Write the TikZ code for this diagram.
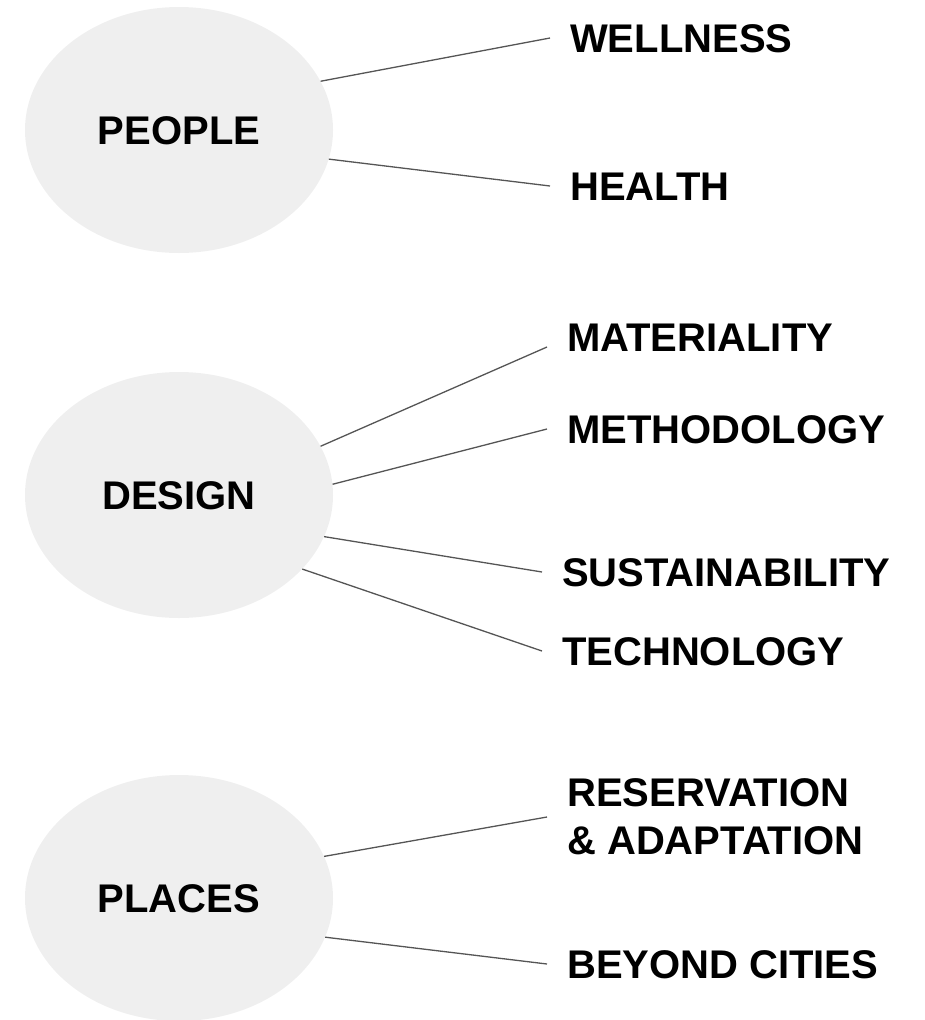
\documentclass[tikz,border=0pt]{standalone}
\usepackage{fontspec}
\setmainfont{Liberation Sans}
\usetikzlibrary{shapes.geometric}
\definecolor{bubblegray}{HTML}{EFEFEF}
\definecolor{linegray}{HTML}{555555}
\tikzset{
    topic/.style={ellipse, fill=bubblegray, minimum width=308pt, minimum height=246pt, inner sep=0pt,
        font=\fontsize{40}{48}\selectfont\bfseries, text height=28.6pt, text depth=0pt},
    item/.style={anchor=west, inner xsep=20pt, inner ysep=0pt,
        font=\fontsize{40}{48}\selectfont\bfseries, text height=28.6pt, text depth=0pt},
    twoline/.style={anchor=west, inner xsep=20pt, inner ysep=0pt, align=left,
        font=\fontsize{40}{48}\selectfont\bfseries},
    link/.style={draw=linegray, line width=1.3pt}
}
\begin{document}
\begin{tikzpicture}[x=1pt, y=-1pt]
            \useasboundingbox (0, 0) rectangle (925, 1020);
            \node[topic](people) at (179, 130) {PEOPLE};
            \node[item](wellness) at (550, 38) {WELLNESS};
            \node[item](health) at (550, 186) {HEALTH};
            \path[link] (people.19) edge (wellness.west) (people.-11) edge (health.west);
            \node[topic](design) at (179, 495) {DESIGN};
            \node[item](materiality) at (547, 337) {MATERIALITY};
            \node[item](methodology) at (547, 429) {METHODOLOGY};
            \node[item](sustainability) at (542, 572) {SUSTAINABILITY};
            \node[item](technology) at (542, 651) {TECHNOLOGY};
            \path[link] (design.19) edge ([yshift=-10pt]materiality.west) (design.4) edge (methodology.west);
            \path[link] (design.-16) edge (sustainability.west) (design.-31) edge (technology.west);
            \node[topic](places) at (179, 898) {PLACES};
            \node[twoline](reservation) at (547, 817) {RESERVATION\\\& ADAPTATION};
            \node[item](beyond) at (547, 964) {BEYOND CITIES};
            \path[link] (places.16) edge (reservation.west) (places.-15) edge (beyond.west);
        \end{tikzpicture}
\end{document}
